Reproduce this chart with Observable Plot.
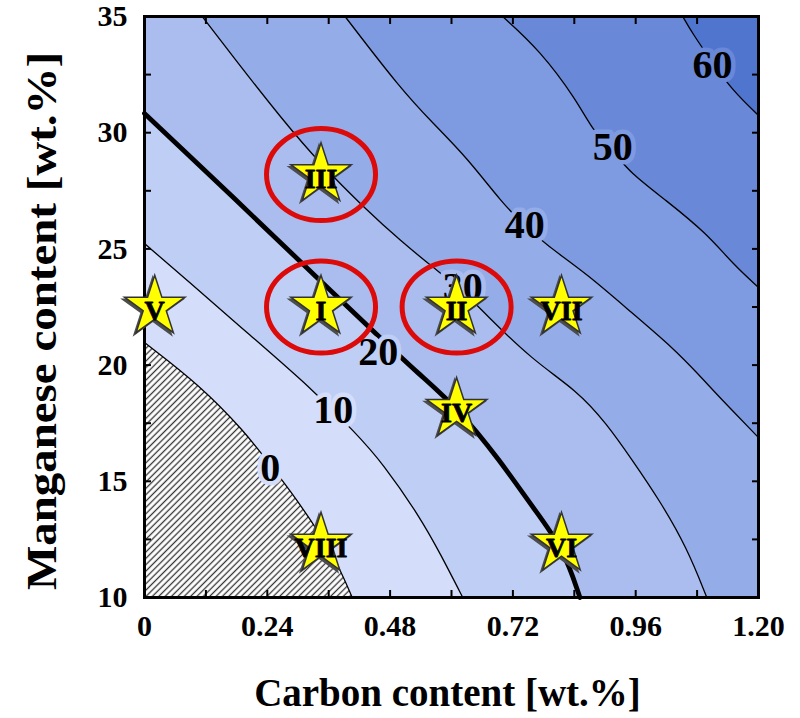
<!DOCTYPE html>
<html>
<head>
<meta charset="utf-8">
<script src="https://cdn.jsdelivr.net/npm/d3@7"></script>
<script src="https://cdn.jsdelivr.net/npm/@observablehq/plot@0.6"></script>
<style>
  body { margin: 0; background: #fff; }
  #chart { width: 800px; height: 718px; }
</style>
</head>
<body>
<div id="chart"></div>
<script>
// ---- Data ----
// Contour levels (SFE) and their iso-lines: carbon [wt.%] vs manganese [wt.%]
const levels = [0, 10, 20, 30, 40, 50, 60];

const contour0C  = [0, 0.109, 0.197, 0.236, 0.285, 0.343, 0.379, 0.406];
const contour0Mn = [20.97, 19.12, 17.10, 15.98, 14.60, 12.75, 11.38, 10];

const contour10C  = [0, 0.084, 0.207, 0.324, 0.412, 0.466, 0.539, 0.578, 0.622];
const contour10Mn = [25.23, 23.64, 21.27, 19.04, 17.10, 15.77, 13.44, 11.89, 10];

const contour20C  = [0, 0.174, 0.343, 0.46, 0.535, 0.611, 0.695, 0.759, 0.818, 0.851];
const contour20Mn = [30.83, 27.21, 23.64, 21.19, 19.64, 18.18, 15.89, 13.87, 12.15, 10];

const contour30C  = [0.113, 0.174, 0.271, 0.343, 0.435, 0.50, 0.564, 0.622, 0.665, 0.759, 0.845, 0.903, 0.954, 1.007, 1.060, 1.099];
const contour30Mn = [35, 33.24, 30.52, 28.67, 26.65, 25.36, 24.20, 23.21, 22.22, 20.20, 18.91, 17.49, 15.89, 14.17, 12.15, 10];

const contour40C  = [0.392, 0.50, 0.564, 0.630, 0.70, 0.743, 0.786, 0.864, 0.954, 1.032, 1.085, 1.124, 1.2];
const contour40Mn = [35, 31.90, 30.40, 28.93, 26.95, 26.01, 25.15, 23.94, 22.22, 20.76, 19.55, 18.61, 16.88];

const contour50C  = [0.70, 0.773, 0.845, 0.876, 0.915, 0.948, 1.02, 1.099, 1.149, 1.2];
const contour50Mn = [35, 33.54, 31.39, 30.09, 29.23, 28.29, 27.08, 25.66, 24.37, 23.34];

const contour60C  = [1.052, 1.071, 1.11, 1.149, 1.2];
const contour60Mn = [35, 34.27, 33.02, 31.82, 30.74];

// contour label positions
const labelC  = [0.246, 0.369, 0.457, 0.622, 0.743, 0.915, 1.11];
const labelMn = [15.55, 18.05, 20.55, 23.34, 26.01, 29.36, 32.89];

// band fill colours (from the 0-10 band upwards)
const bandColors = ["#d4defa", "#bfcef5", "#aabdee", "#94ade8", "#7e9be1", "#6989d8", "#5075cf"];

// Alloys marked with stars
const starNames = ["I", "II", "III", "IV", "V", "VI", "VII", "VIII"];
const starC     = [0.345, 0.61, 0.345, 0.61, 0.02, 0.815, 0.815, 0.345];
const starMn    = [22.5, 22.5, 28.2, 18.1, 22.5, 12.3, 22.5, 12.3];
const circledNames = ["I", "II", "III"];

// Axes
const xTickLabels = [0, 0.24, 0.48, 0.72, 0.96, 1.2];
const xMinorTicks = [0.12, 0.24, 0.36, 0.48, 0.6, 0.72, 0.84, 0.96, 1.08];
const yTickLabels = [10, 15, 20, 25, 30, 35];
const yMinorTicks = [12.5, 15, 17.5, 20, 22.5, 25, 27.5, 30, 32.5];
const xTitle = "Carbon content [wt.%]";
const yTitle = "Manganese content [wt.%]";

// ---- Build ----
const contourC  = [contour0C, contour10C, contour20C, contour30C, contour40C, contour50C, contour60C];
const contourMn = [contour0Mn, contour10Mn, contour20Mn, contour30Mn, contour40Mn, contour50Mn, contour60Mn];

const contours = levels.map((level, i) => ({
  level,
  pts: contourC[i].map((c, j) => ({c, mn: contourMn[i][j]}))
}));

const stars = starNames.map((name, i) => ({name, c: starC[i], mn: starMn[i]}));
const circled = stars.filter(d => circledNames.includes(d.name));

const ellipse = {
  draw(ctx, size) {
    const rx = Math.sqrt(size / Math.PI), ry = rx * 0.845, k = 0.5523;
    ctx.moveTo(rx, 0);
    ctx.bezierCurveTo(rx, ry * k, rx * k, ry, 0, ry);
    ctx.bezierCurveTo(-rx * k, ry, -rx, ry * k, -rx, 0);
    ctx.bezierCurveTo(-rx, -ry * k, -rx * k, -ry, 0, -ry);
    ctx.bezierCurveTo(rx * k, -ry, rx, -ry * k, rx, 0);
    ctx.closePath();
  }
};

const serif = "'Liberation Serif', 'Times New Roman', serif";
const curve = "basis";
const marks = [];

// hatched region (below 0)
marks.push(Plot.frame({fill: "url(#hatch)"}));

// filled bands, each drawn on the high side of its contour
contours.forEach((ct, i) => {
  marks.push(Plot.areaY(ct.pts, {x: "c", y1: "mn", y2: 35, fill: bandColors[i], curve}));
  const last = ct.pts[ct.pts.length - 1];
  if (last.c < 1.2) {
    marks.push(Plot.rect([last], {x1: "c", x2: 1.2, y1: 10, y2: 35, fill: bandColors[i], insetLeft: -1}));
  }
});

// contour lines
contours.forEach(ct => {
  marks.push(Plot.line(ct.pts, {x: "c", y: "mn", stroke: "black",
    strokeWidth: ct.level === 20 ? 4.8 : 1.3, curve}));
});

// contour labels
levels.forEach((level, i) => {
  marks.push(Plot.text([level], {
    x: () => labelC[i], y: () => labelMn[i], text: d => String(d),
    fontSize: 40, fontWeight: "bold", fontFamily: serif, fill: "black",
    stroke: bandColors[Math.max(0, i - 1)], strokeWidth: 9, paintOrder: "stroke"
  }));
});

// frame and axes
marks.push(Plot.frame({stroke: "black", strokeWidth: 3}));
marks.push(Plot.axisX(xTickLabels, {tickSize: 0, tickPadding: 17, tickFormat: d => d === 0 ? "0" : d.toFixed(2),
  fontSize: 30, fontWeight: "bold", fontFamily: serif, label: null}));
marks.push(Plot.axisX(xMinorTicks, {tickSize: 7, dy: -7, tickFormat: () => "", label: null, strokeWidth: 2}));
marks.push(Plot.axisX(xMinorTicks, {anchor: "top", tickSize: 7, dy: 7, tickFormat: () => "", label: null, strokeWidth: 2}));
marks.push(Plot.axisY(yTickLabels, {tickSize: 0, tickPadding: 17, fontSize: 30, fontWeight: "bold", fontFamily: serif, label: null}));
marks.push(Plot.axisY(yMinorTicks, {tickSize: 7, dx: 7, tickFormat: () => "", label: null, strokeWidth: 2}));
marks.push(Plot.axisY(yMinorTicks, {anchor: "right", tickSize: 7, dx: -7, tickFormat: () => "", label: null, strokeWidth: 2}));

// red ellipses
marks.push(Plot.dot(circled, {x: "c", y: "mn", r: 54.5, symbol: ellipse, fill: "none", stroke: "#dd0a0a", strokeWidth: 5}));

// stars with shadow
marks.push(Plot.dot(stars, {x: "c", y: "mn", r: 19, symbol: "star", fill: "#4d4d4d", stroke: "#4d4d4d", strokeWidth: 1.5, dx: -2, dy: 2}));
marks.push(Plot.dot(stars, {x: "c", y: "mn", r: 19, symbol: "star", fill: "#ffff00", stroke: "#333333", strokeWidth: 1.5}));
marks.push(Plot.text(stars, {x: "c", y: "mn", text: "name", dy: 4, fontSize: 28, fontWeight: "bold", fontFamily: serif,
  fill: "black", stroke: "black", strokeWidth: 0.8}));

// axis titles
marks.push(Plot.text([xTitle], {frameAnchor: "bottom", lineAnchor: "middle", textAnchor: "middle", dy: 96, dx: -4,
  fontSize: 39, fontWeight: "bold", fontFamily: serif, fill: "black"}));
marks.push(Plot.text([yTitle], {frameAnchor: "left", lineAnchor: "middle", textAnchor: "middle", dx: -102, dy: 14, rotate: -90,
  fontSize: 42, fontWeight: "bold", fontFamily: serif, fill: "black"}));

const svg = Plot.plot({
  width: 800,
  height: 718,
  marginLeft: 144,
  marginRight: 42,
  marginTop: 16,
  marginBottom: 121,
  x: {domain: [0, 1.2]},
  y: {domain: [10, 35]},
  style: {fontFamily: serif, background: "white", color: "black", overflow: "visible"},
  marks
});

// hatch pattern definition
const defs = d3.select(svg).insert("defs", ":first-child");
const pat = defs.append("pattern").attr("id", "hatch").attr("patternUnits", "userSpaceOnUse")
  .attr("width", 4.5).attr("height", 4.5).attr("patternTransform", "rotate(45)");
pat.append("rect").attr("width", 4.5).attr("height", 4.5).attr("fill", "#ffffff");
pat.append("line").attr("x1", 2.25).attr("y1", 0).attr("x2", 2.25).attr("y2", 4.5)
  .attr("stroke", "#333333").attr("stroke-width", 1.3);

// stretch the y title to the reference's length
d3.select(svg).selectAll("text").filter(function () { return this.textContent === yTitle; })
  .attr("textLength", 538).attr("lengthAdjust", "spacingAndGlyphs");

document.getElementById("chart").appendChild(svg);
</script>
</body>
</html>
